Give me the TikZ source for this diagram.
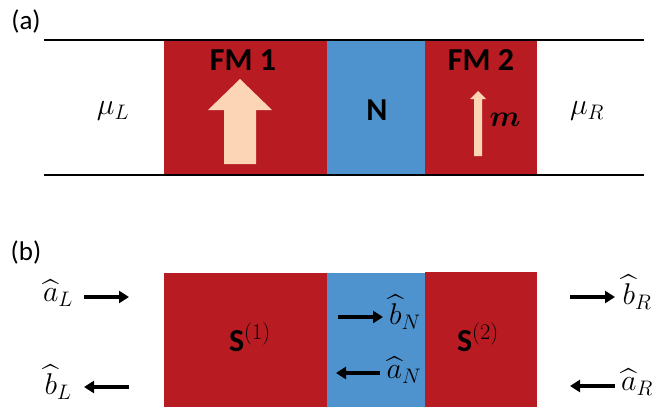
\RequirePackage{fix-cm}
\documentclass[tikz,border=0pt]{standalone}
\usepackage{amsmath}
\usepackage{amssymb}
\usepackage{fontspec}
\setmainfont{Carlito}
\usetikzlibrary{arrows.meta}
\definecolor{fmred}{HTML}{B81C22}
\definecolor{nblue}{HTML}{4F93CE}
\definecolor{peach}{HTML}{FBD5B5}
\tikzset{
  panel/.style={font=\fontsize{27}{31}\selectfont},
  lbl/.style={font=\fontsize{32}{36}\selectfont\bfseries},
  mth/.style={font=\fontsize{30}{34}\selectfont},
  flow/.style={line width=3.2pt,-{Triangle[length=10pt,width=12pt]}}
}

\begin{document}
\begin{tikzpicture}[x=1pt,y=-1pt]
  \useasboundingbox (0,0) rectangle (667,407);
  % (a) junction
  \fill[fmred] (164,40) rectangle (327,175);
  \fill[nblue] (327,40) rectangle (425,175);
  \fill[fmred] (425,40) rectangle (537,175);
  \draw[line width=2pt] (44,40)--(644,40);
  \draw[line width=2pt] (44,175)--(644,175);
  \node[panel] (pa) at (26,21) {(a)};
  \node[lbl] (fmone) at (243,60) {FM 1};
  \node[lbl] (fmtwo) at (481,60) {FM 2};
  \node[lbl] (nn) at (377,110) {N};
  \node[mth] (muL) at (113,111) {$\mu_L$};
  \node[mth] (muR) at (587,111) {$\mu_R$};
  \fill[peach] (224,164)--(224,110)--(208,110)--(240,79)--(272,110)--(256,110)--(256,164)--cycle;
  \fill[peach] (474,156)--(474,99)--(470,99)--(478,91)--(486,99)--(482,99)--(482,156)--cycle;
  \node[mth] (mm) at (505,120) {$\boldsymbol{m}$};
  % (b) scattering
  \fill[fmred] (164,273) rectangle (327,407);
  \fill[nblue] (327,273) rectangle (425,407);
  \fill[fmred] (425,272) rectangle (537,407);
  \node[panel] (pb) at (26,252) {(b)};
  \node[lbl] (sone) at (250,337) {S$^{(1)}$};
  \node[lbl] (stwo) at (478,337) {S$^{(2)}$};
  \node[mth] (aL) at (58,293) {$\widehat{a}_L$};
  \node[mth] (bL) at (58,382) {$\widehat{b}_L$};
  \node[mth] (bN) at (405,312) {$\widehat{b}_N$};
  \node[mth] (aN) at (404,370) {$\widehat{a}_N$};
  \node[mth] (bR) at (637,292) {$\widehat{b}_R$};
  \node[mth] (aR) at (637,382) {$\widehat{a}_R$};
  \coordinate (aLs) at (84,297);
  \coordinate (aLe) at (129,297);
  \coordinate (bLs) at (129,387);
  \coordinate (bLe) at (84,387);
  \coordinate (bNs) at (338,317);
  \coordinate (bNe) at (383,317);
  \coordinate (aNs) at (380,373);
  \coordinate (aNe) at (336,373);
  \coordinate (bRs) at (570,297);
  \coordinate (bRe) at (615,297);
  \coordinate (aRs) at (615,386);
  \coordinate (aRe) at (570,386);
  \foreach \s/\e in {aLs/aLe,bLs/bLe,bNs/bNe,aNs/aNe,bRs/bRe,aRs/aRe}
    \draw[flow] (\s) -- (\e);
\end{tikzpicture}
\end{document}
